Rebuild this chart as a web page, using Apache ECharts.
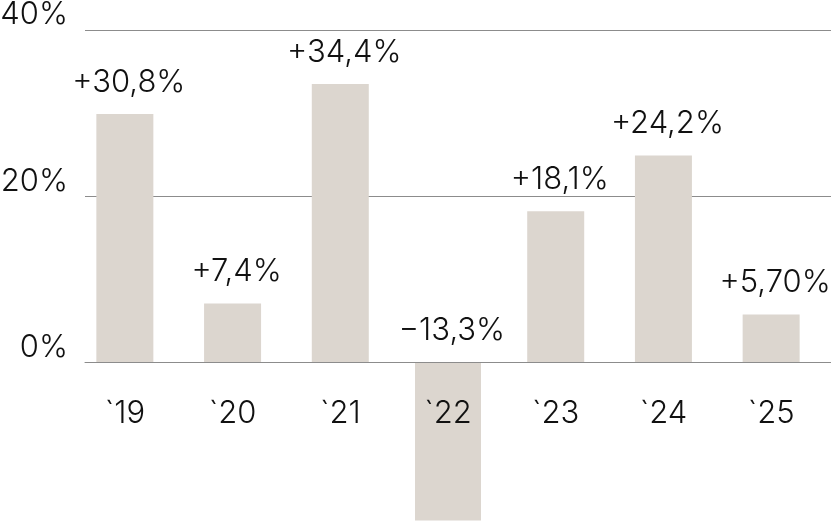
<!DOCTYPE html>
<html>
<head>
<meta charset="utf-8">
<script src="https://cdn.jsdelivr.net/npm/echarts@6/dist/echarts.min.js"></script>
<style>
html,body{margin:0;padding:0;background:#fff;}
#chart{width:831px;height:522px;}
</style>
</head>
<body>
<div id="chart"></div>
<script>
// Data
const categories = ['`19', '`20', '`21', '`22', '`23', '`24', '`25'];
const barValues = [29.9, 7.1, 33.5, -19.0, 18.2, 24.9, 5.8];
const barLabels = ['+30,8%', '+7,4%', '+34,4%', '−13,3%', '+18,1%', '+24,2%', '+5,70%'];
const yTicks = [0, 20, 40];

const FONT = 'Inter, "Noto Sans", sans-serif';
const BAR_COLOR = '#DCD6CF';
const TEXT_COLOR = '#111111';
const GRID_COLOR = '#8c8c8c';

const chart = echarts.init(document.getElementById('chart'), null, {renderer: 'canvas'});

const mainData = barValues.map((v, i) => (i === 3 ? null : v));
const negData = barValues.map((v, i) => (i === 3 ? v : null));

const labelStyle = {
  show: true,
  position: 'top',
  distance: 16,
  offset: [4, 0],
  fontFamily: FONT,
  fontWeight: 300,
  fontSize: 31,
  color: TEXT_COLOR,
  formatter: p => barLabels[p.dataIndex]
};

const option = {
  animation: false,
  backgroundColor: '#ffffff',
  grid: [
    // gridlines + y labels
    {left: 85, right: 0, top: 30, bottom: 159.5, outerBoundsMode: 'none', containLabel: false},
    // bars
    {left: 71, right: 6, top: 30, bottom: 1.4, outerBoundsMode: 'none', containLabel: false},
    // category labels under the zero line
    {left: 71, right: 6, top: 30, bottom: 159.5, outerBoundsMode: 'none', containLabel: false}
  ],
  xAxis: [
    {
      gridIndex: 0, type: 'category', data: categories, z: 10,
      axisLine: {show: true, onZero: false, lineStyle: {color: GRID_COLOR, width: 1}},
      axisTick: {show: false}, axisLabel: {show: false}, splitLine: {show: false}
    },
    {gridIndex: 1, type: 'category', data: categories, show: false},
    {gridIndex: 1, type: 'category', data: categories, show: false},
    {
      gridIndex: 2, type: 'category', data: categories, position: 'bottom', z: 10,
      axisLine: {show: false, onZero: false},
      axisTick: {show: false},
      axisLabel: {
        show: true, margin: 36, fontFamily: FONT, fontWeight: 300, fontSize: 31,
        color: TEXT_COLOR, verticalAlign: 'top', lineHeight: 31, interval: 0
      }
    }
  ],
  yAxis: [
    {
      gridIndex: 0, type: 'value', min: 0, max: 40, interval: 20,
      axisLine: {show: false}, axisTick: {show: false},
      splitLine: {show: true, lineStyle: {color: GRID_COLOR, width: 1}},
      axisLabel: {
        show: true, margin: 17, fontFamily: FONT, fontWeight: 300, fontSize: 31,
        color: TEXT_COLOR, verticalAlign: 'bottom', lineHeight: 30,
        formatter: v => (yTicks.indexOf(v) >= 0 ? v + '%' : '')
      }
    },
    {gridIndex: 1, type: 'value', min: -19, max: 40, show: false, splitLine: {show: false}},
    {gridIndex: 2, type: 'value', min: 0, max: 40, show: false, splitLine: {show: false}}
  ],
  series: [
    {
      type: 'bar', xAxisIndex: 1, yAxisIndex: 1, data: mainData,
      barWidth: 57, itemStyle: {color: BAR_COLOR}, label: labelStyle
    },
    {
      type: 'bar', xAxisIndex: 2, yAxisIndex: 1, data: negData,
      barWidth: 66, itemStyle: {color: BAR_COLOR}, label: labelStyle
    }
  ]
};
chart.setOption(option);
</script>
</body>
</html>
